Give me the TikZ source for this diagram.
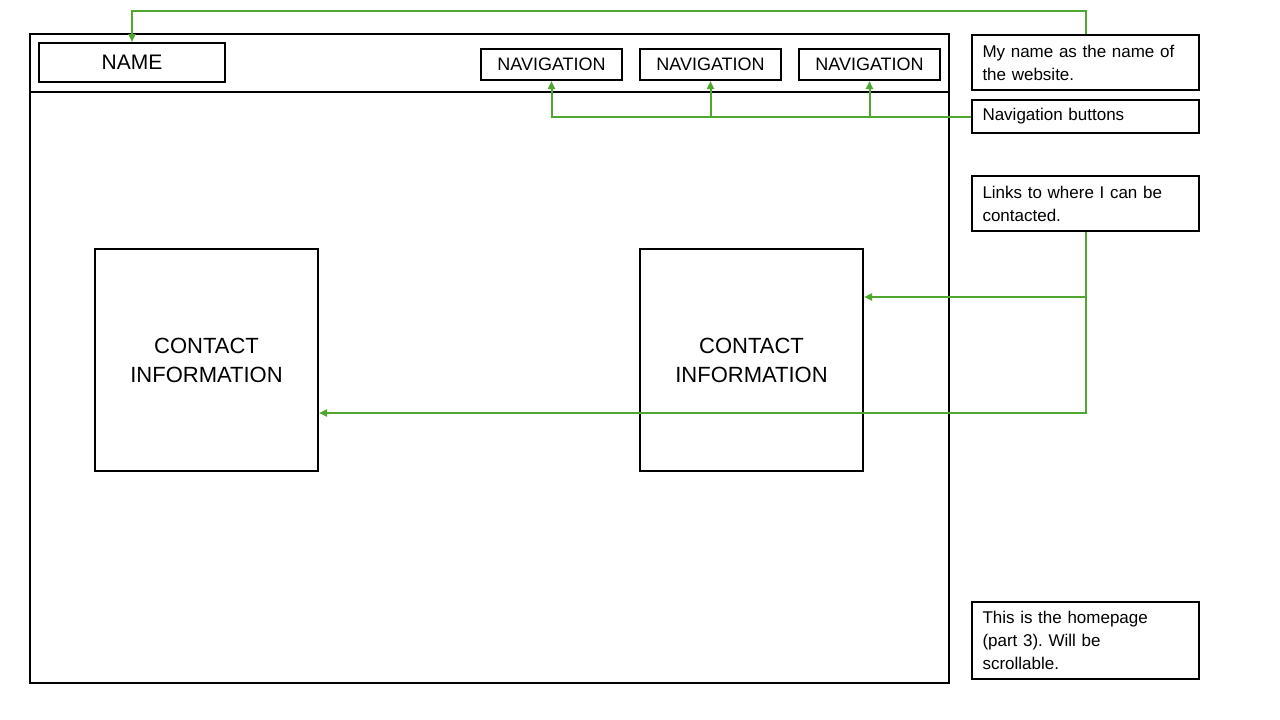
\documentclass[tikz,border=0pt]{standalone}
\usepackage{fontspec}
\setmainfont{Liberation Sans}
\usetikzlibrary{arrows.meta}
\definecolor{linkgreen}{HTML}{4EA72E}
\frenchspacing

\begin{document}
\begin{tikzpicture}[x=1pt,y=-1pt,
   box/.style={draw,line width=2pt,inner sep=0pt},
   navbox/.style={box,minimum width=141pt,minimum height=31pt,font=\fontsize{18}{20}\selectfont},
   contactbox/.style={box,minimum width=223pt,minimum height=222pt,align=center,font=\fontsize{22}{29}\selectfont},
   note/.style={box,minimum width=227pt,text width=206pt,align=left,font=\fontsize{17}{23}\selectfont},
   link/.style={linkgreen,line width=2pt,-{Triangle[length=8pt,width=7pt]}}]
   \useasboundingbox (0,0) rectangle (1280,720);
   % page frame and header
   \node[box,minimum width=919pt,minimum height=649pt] (frame) at (489.5,358.5) {};
   \draw[line width=2pt] (30,92) -- (949,92);
   \node[box,minimum width=186pt,minimum height=39pt,font=\fontsize{21}{24}\selectfont] (name) at (132,62.5) {NAME};
   \node[navbox] (nav1) at (551.5,64.5) {NAVIGATION};
   \node[navbox] (nav2) at (710.5,64.5) {NAVIGATION};
   \node[navbox] (nav3) at (869.5,64.5) {NAVIGATION};
   \node[contactbox] (contact1) at (206.5,360) {CONTACT\\INFORMATION};
   \node[contactbox] (contact2) at (751.5,360) {CONTACT\\INFORMATION};
   % notes
   \node[note,minimum height=55pt] (note1) at (1085.5,62.5) {My name as the name of\\the website.};
   \node[note,minimum height=33pt] (note2) at (1085.5,116.5) {Navigation buttons};
   \node[note,minimum height=55pt] (note3) at (1085.5,203.5) {Links to where I can be\\contacted.};
   \node[note,minimum height=77pt] (note4) at (1085.5,640.5) {This is the homepage\\(part 3). Will be\\scrollable.};
   % connectors
   \coordinate (top) at (0,11);
   \coordinate (upper) at (0,297);
   \coordinate (lower) at (0,413);
   \draw[link] (note1.north) -- (note1.north |- top) -| (name.north);
   \draw[link] (note2.west) -| (nav1.south);
   \draw[link] (nav2.south |- note2.west) -- (nav2.south);
   \draw[link] (nav3.south |- note2.west) -- (nav3.south);
   \draw[link] (note3.south) -- (note3.south |- lower) -- (contact1.east |- lower);
   \draw[link] (note3.south |- upper) -- (contact2.east |- upper);
\end{tikzpicture}
\end{document}
